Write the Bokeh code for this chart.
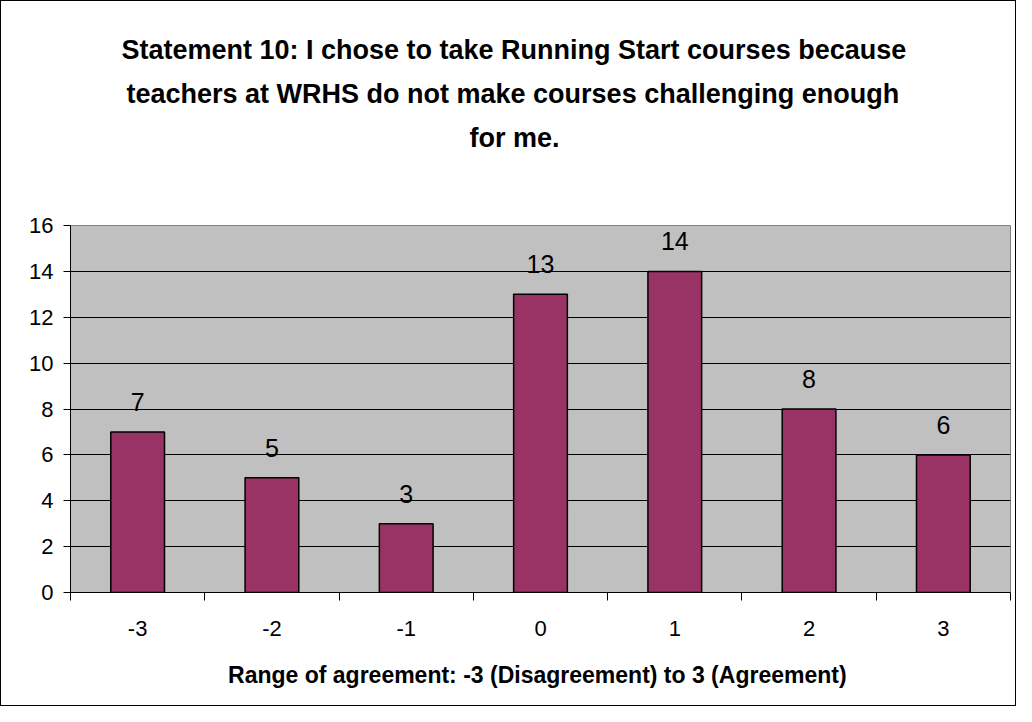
from bokeh.plotting import figure
from bokeh.layouts import column
from bokeh.models import Range1d, FixedTicker, ColumnDataSource, LabelSet, Title
from bokeh.core.properties import value
from bokeh.embed import file_html
from bokeh.resources import INLINE

categories = ["-3", "-2", "-1", "0", "1", "2", "3"]
counts = [7, 5, 3, 13, 14, 8, 6]
y_ticks = [0, 2, 4, 6, 8, 10, 12, 14, 16]
title_lines = [
    "Statement 10:  I chose to take Running Start courses because",
    "teachers at WRHS do not make courses challenging enough",
    "for me.",
]
x_label = "Range of agreement:  -3 (Disagreement) to 3 (Agreement)"

FONT = "Liberation Sans"

xpos = list(range(len(categories)))
source = ColumnDataSource(dict(x=xpos, cat=categories, count=counts,
                               label=[str(c) for c in counts]))

p = figure(width=1014, height=704, output_backend="svg", toolbar_location=None,
           x_range=Range1d(-0.5, len(categories) - 0.5), y_range=Range1d(0, 16),
           min_border_left=69, min_border_right=5, min_border_top=224,
           min_border_bottom=113, title=None)
p.background_fill_color = "#C0C0C0"
p.border_fill_color = "white"
p.outline_line_color = "#808080"
p.outline_line_width = 1

p.vbar(x="x", top="count", width=0.4, source=source, fill_color="#993366",
       line_color="black", line_width=1.5)

labels = LabelSet(x="x", y="count", text="label", source=source, text_align="center",
                  text_baseline="alphabetic", y_offset=21, text_font_size=value("25px"),
                  text_font=value(FONT), text_color=value("black"))
p.add_layout(labels)

# x axis
p.xaxis.ticker = FixedTicker(ticks=xpos, minor_ticks=[i - 0.5 for i in range(len(categories) + 1)])
p.xaxis.major_label_overrides = {i: c for i, c in zip(xpos, categories)}
p.xaxis.major_tick_out = 0
p.xaxis.major_tick_in = 0
p.xaxis.minor_tick_out = 8
p.xaxis.minor_tick_in = 0
p.xaxis.minor_tick_line_color = "black"
p.xaxis.axis_line_color = "black"
p.xaxis.major_label_text_font = FONT
p.xaxis.major_label_text_font_size = "22px"
p.xaxis.major_label_text_color = "black"
p.xaxis.major_label_standoff = 20
p.xaxis.axis_label = x_label
p.xaxis.axis_label_text_font = FONT
p.xaxis.axis_label_text_font_size = "23px"
p.xaxis.axis_label_text_font_style = "bold"
p.xaxis.axis_label_text_color = "black"
p.xaxis.axis_label_standoff = 23

# y axis
p.yaxis.ticker = FixedTicker(ticks=y_ticks)
p.yaxis.major_tick_out = 7
p.yaxis.major_tick_in = 0
p.yaxis.minor_tick_out = 0
p.yaxis.minor_tick_in = 0
p.yaxis.major_tick_line_color = "black"
p.yaxis.axis_line_color = "black"
p.yaxis.major_label_text_font = FONT
p.yaxis.major_label_text_font_size = "22px"
p.yaxis.major_label_text_color = "black"
p.yaxis.major_label_standoff = 10

p.xgrid.visible = False
p.ygrid.ticker = FixedTicker(ticks=y_ticks)
p.ygrid.grid_line_color = "black"
p.ygrid.grid_line_width = 1

# chart title: spacer above the plot area, then the three lines (nearest first),
# each left-aligned with an offset so the block is centred on the whole chart
spacer = Title(text=" ", text_font=FONT, text_font_size="27px", standoff=35)
p.add_layout(spacer, "above")
title_offsets = [51, 56, 399]
for line, off in zip(reversed(title_lines), reversed(title_offsets)):
    t = Title(text=line, align="left", offset=off, text_font=FONT, text_font_size="27px",
              text_font_style="bold", text_color="black", standoff=12)
    p.add_layout(t, "above")

root = column(p, styles={"border": "1px solid black"})

open("out.html", "w").write(file_html(root, INLINE))
